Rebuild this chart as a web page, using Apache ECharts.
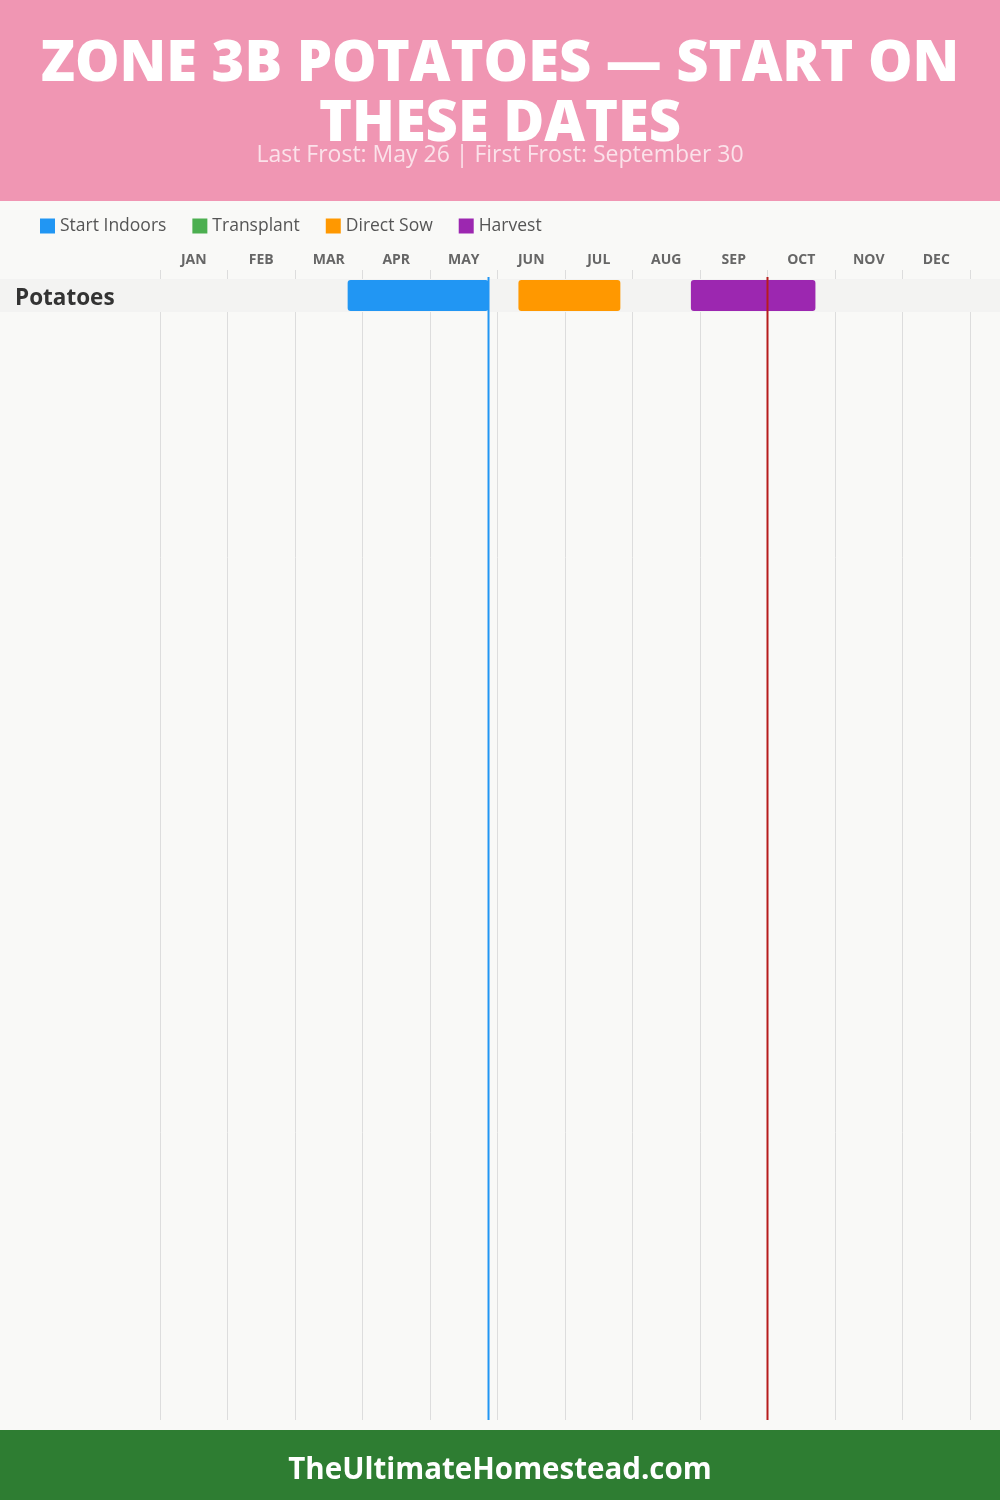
<!DOCTYPE html>
<html><head><meta charset="utf-8">
<script src="https://cdn.jsdelivr.net/npm/echarts@6/dist/echarts.min.js"></script>
<style>html,body{margin:0;padding:0;background:#F9F9F7}#c{width:1000px;height:1500px}</style>
</head><body><div id="c"></div>
<script>
// ---- data (x values in month units: month index + day/30) ----
const months = ['JAN','FEB','MAR','APR','MAY','JUN','JUL','AUG','SEP','OCT','NOV','DEC'];
const crops = ['Potatoes'];
const startIndoors = [[0, 2.78, 4.867]];   // [cropIndex, start, end]
const transplant = [];
const directSow = [[0, 5.31, 6.82]];
const harvest = [[0, 7.865, 9.71]];
const frostLines = [4.867, 9.0];           // Last frost May 26, first frost Sep 30
const titleText = 'ZONE 3B POTATOES — START ON\nTHESE DATES';
const subtitleText = 'Last Frost: May 26 | First Frost: September 30';
const footerText = 'TheUltimateHomestead.com';

const COLORS = {si:'#2196F3', tp:'#4CAF50', ds:'#FF9800', hv:'#9C27B0'};
const FONT = 'Open Sans';

function barRender(params, api){
  const r = api.value(0);
  const a = api.coord([api.value(1), r]);
  const b = api.coord([api.value(2), r]);
  const h = api.size([0,1])[1];
  return {type:'rect', shape:{x:a[0], y:a[1]-h/2+1, width:b[0]-a[0], height:h-2, r:3},
    style:{fill: api.visual('color')}};
}
function barSeries(name, data, color){
  return {type:'custom', name, xAxisIndex:1, yAxisIndex:1, data, renderItem:barRender,
    itemStyle:{color}, encode:{x:[1,2], y:0}, z:5, silent:true};
}

const chart = echarts.init(document.getElementById('c'), null, {renderer:'canvas'});
chart.setOption({
  backgroundColor:'#F9F9F7',
  animation:false,
  textStyle:{fontFamily:FONT},
  legend:{
    left:40, top:217, padding:0, itemWidth:15, itemHeight:15, itemGap:26, icon:'rect',
    textStyle:{fontFamily:FONT, fontSize:17.5, color:'#555'},
    data:['Start Indoors','Transplant','Direct Sow','Harvest']
  },
  grid:[
    {left:160, width:810, top:270, bottom:80},
    {left:160, width:810, top:279, height:33*crops.length},
    {left:160, width:810, top:277, bottom:80}
  ],
  xAxis:[
    {type:'category', gridIndex:0, data:months, position:'top', boundaryGap:true,
     axisLine:{show:false}, axisTick:{show:false},
     axisLabel:{margin:3, fontFamily:FONT, fontWeight:'bold', fontSize:14, color:'#666', interval:0},
     splitLine:{show:true, interval:0, lineStyle:{color:'#DDDDDD', width:1}}},
    {type:'value', gridIndex:1, min:0, max:12, show:false},
    {type:'value', gridIndex:2, min:0, max:12, show:false}
  ],
  yAxis:[
    {type:'value', gridIndex:0, show:false},
    {type:'category', gridIndex:1, data:crops, inverse:true, z:8,
     axisLine:{show:false}, axisTick:{show:false}, splitLine:{show:false},
     axisLabel:{align:'left', margin:145, formatter:'{n|{value}}',
       rich:{n:{padding:[6,0,0,0], fontFamily:FONT, fontWeight:'bold', fontSize:22.5, color:'#333'}}}},
    {type:'value', gridIndex:2, min:0, max:1, show:false}
  ],
  series:[
    {type:'custom', name:'band', xAxisIndex:1, yAxisIndex:1, silent:true, z:1,
     data:crops.map((c,i)=>[i]),
     renderItem:(params, api)=>{
       const p = api.coord([0, api.value(0)]);
       const h = api.size([0,1])[1];
       return {type:'rect', shape:{x:0, y:p[1]-h/2, width:api.getWidth(), height:h},
         style:{fill:'#F3F3F2'}};
     }},
    barSeries('Start Indoors', startIndoors, COLORS.si),
    barSeries('Transplant', transplant, COLORS.tp),
    barSeries('Direct Sow', directSow, COLORS.ds),
    barSeries('Harvest', harvest, COLORS.hv),
    {type:'custom', name:'frost', xAxisIndex:2, yAxisIndex:2, silent:true, z:10,
     data:frostLines.map((v,i)=>[v,i]),
     renderItem:(params, api)=>{
       const x = api.coord([api.value(0), 0])[0];
       const cs = params.coordSys;
       return {type:'line', shape:{x1:x, y1:cs.y, x2:x, y2:cs.y+cs.height},
         style:{stroke: api.value(1)===0 ? '#2196F3' : '#B71C1C', lineWidth:2}};
     }}
  ],
  graphic:[
    {type:'rect', left:0, top:0, shape:{width:1000, height:201}, style:{fill:'#F096B3'}, z:-1, silent:true},
    {type:'text', x:500, y:95, style:{text:titleText, fill:'#FFFFFF', font:'800 56px "Open Sans"',
      textAlign:'center', textVerticalAlign:'middle', lineHeight:60}, z:1},
    {type:'text', x:500, y:155, style:{text:subtitleText, fill:'rgba(255,255,255,0.72)', font:'23px "Open Sans"',
      textAlign:'center', textVerticalAlign:'middle'}, z:2},
    {type:'rect', left:0, top:1430, shape:{width:1000, height:70}, style:{fill:'#2E7D32'}, silent:true},
    {type:'text', x:500, y:1471, style:{text:footerText, fill:'#FFFFFF', font:'bold 29.5px "Open Sans"',
      textAlign:'center', textVerticalAlign:'middle'}}
  ]
});
</script></body></html>
